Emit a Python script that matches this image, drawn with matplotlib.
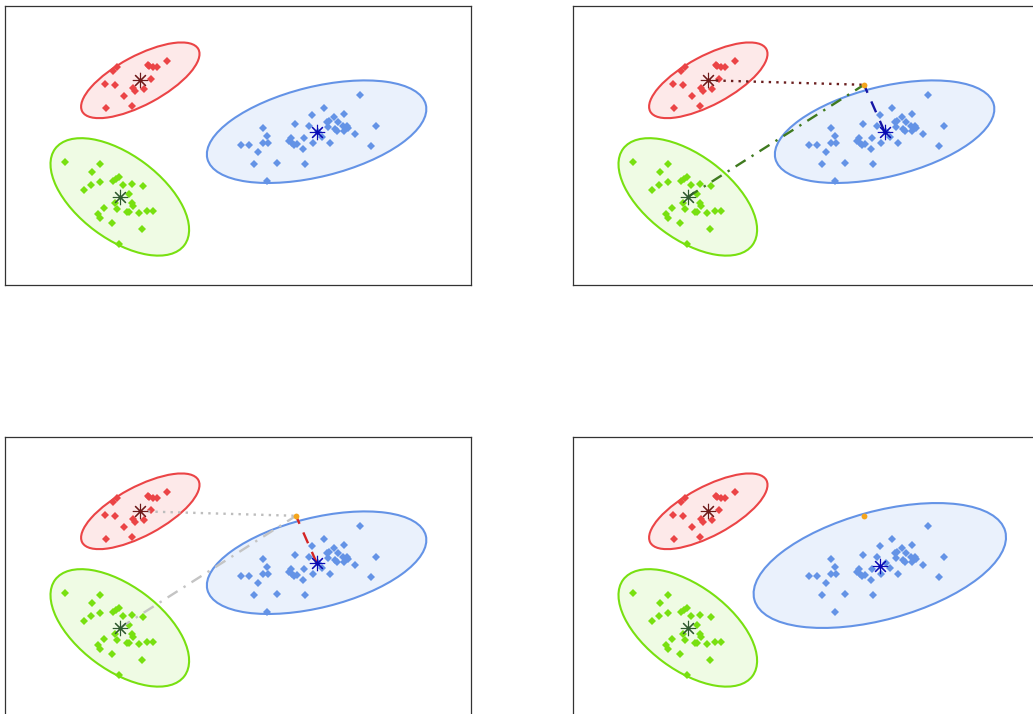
import matplotlib
matplotlib.use("Agg")
import matplotlib.pyplot as plt
from matplotlib.patches import Ellipse

# ---- cluster samples ----
red_x = [107.7, 112.3, 100.0, 110.0, 101.0, 126.7, 119.3, 128.3, 130.0, 139.0,
         145.7, 142.7, 147.7, 151.7, 162.3, 144.0]
red_y = [213.3, 217.3, 200.7, 199.7, 176.3, 179.0, 189.0, 196.7, 193.3, 195.7,
         205.7, 219.7, 217.3, 218.0, 223.3, 219.0]

blue_x = [355.0, 319.0, 306.7, 339.3, 290.0, 304.0, 321.7, 324.0, 329.0, 333.3,
          338.0, 341.7, 343.3, 349.7, 339.0, 330.0, 331.7, 323.3, 371.0, 365.7,
          258.0, 262.3, 257.7, 263.3, 236.3, 243.7, 252.7, 249.3, 271.7, 300.3,
          262.0, 285.7, 287.0, 289.0, 291.7, 297.7, 307.7, 316.7, 325.3, 313.3,
          299.0, 283.5]
blue_y = [189.5, 177.0, 169.7, 170.7, 160.7, 158.7, 162.3, 163.3, 168.0, 162.3,
          159.0, 159.0, 156.5, 150.7, 154.0, 155.7, 153.3, 157.3, 158.3, 138.7,
          156.3, 148.3, 142.0, 141.7, 140.0, 140.0, 132.7, 120.3, 121.3, 120.3,
          104.0, 146.7, 142.0, 140.0, 140.7, 135.7, 142.0, 147.3, 142.0, 152.3,
          146.3, 144.0]

green_x = [60.0, 95.0, 87.3, 95.0, 85.7, 79.3, 107.7, 111.0, 114.0, 117.7,
           126.7, 137.7, 124.3, 110.0, 126.7, 99.3, 112.3, 121.7, 124.3, 133.7,
           141.7, 147.7, 92.7, 95.0, 107.0, 136.7, 114.3, 127.7]
green_y = [122.3, 120.7, 112.3, 102.3, 100.0, 94.7, 104.0, 105.7, 107.3, 100.0,
           100.7, 98.3, 90.7, 81.3, 81.3, 76.7, 75.7, 72.3, 73.0, 72.0,
           73.3, 74.0, 70.7, 66.7, 61.3, 55.3, 40.7, 79.0]

# ---- component means and covariance ellipses (semi-axes, angle in degrees) ----
red_mean = (135.3, 204.2)
red_axes = (65.9, 24.4)
red_angle = 28.2

green_mean = (114.8, 87.6)
green_axes = (80.6, 41.9)
green_angle = -36.7

blue_mean = (311.6, 152.8)
blue_axes = (112.5, 44.9)
blue_angle = 13.9

# blue component after absorbing the new sample
blue_mean_new = (306.8, 150.0)
blue_axes_new = (130.0, 54.1)
blue_angle_new = 15.3

# new sample
new_x, new_y = 291.0, 199.7

RED, RED_FILL, RED_STAR = "#eb4446", "#fde9e9", "#6e1a1a"
BLUE, BLUE_FILL, BLUE_STAR = "#6493e6", "#eaf1fc", "#0a0ab4"
GREEN, GREEN_FILL, GREEN_STAR = "#78e010", "#effbe4", "#2f5a2f"
ORANGE = "#f4a51c"

W, H = 1033, 714
fig = plt.figure(figsize=(W / 100, H / 100), dpi=100)


def make_axes(left_px, top_px):
    ax = fig.add_axes([left_px / W, 1 - (top_px + 279) / H, 466 / W, 279 / H])
    ax.set_xlim(0, 466)
    ax.set_ylim(0, 279)
    ax.set_xticks([])
    ax.set_yticks([])
    for s in ax.spines.values():
        s.set_color("#333333")
        s.set_linewidth(0.9)
    return ax


def component(ax, mean, axes, angle, edge, fill):
    ax.add_patch(Ellipse(mean, 2 * axes[0], 2 * axes[1], angle=angle,
                         facecolor=fill, edgecolor=edge, lw=1.5, zorder=1))


def base(ax, blue_params):
    component(ax, red_mean, red_axes, red_angle, RED, RED_FILL)
    component(ax, green_mean, green_axes, green_angle, GREEN, GREEN_FILL)
    bm, ba, bang = blue_params
    component(ax, bm, ba, bang, BLUE, BLUE_FILL)
    pt = dict(marker="D", ls="none", ms=4.0, mew=0, zorder=3)
    ax.plot(red_x, red_y, color=RED, **pt)
    ax.plot(blue_x, blue_y, color=BLUE, **pt)
    ax.plot(green_x, green_y, color=GREEN, **pt)
    star = dict(marker=(8, 2, 0), ms=11, mew=0.8, zorder=5)
    ax.plot(*red_mean, color=RED_STAR, **star)
    ax.plot(*green_mean, color=GREEN_STAR, **star)
    ax.plot(*bm, color=BLUE_STAR, **star)


def link(ax, mean, color, ls):
    ax.plot([mean[0], new_x], [mean[1], new_y], color=color, ls=ls, lw=1.7, zorder=4)


def new_point(ax):
    ax.plot(new_x, new_y, "o", color=ORANGE, ms=4.2, mew=0, zorder=6)


# initial mixture
ax1 = make_axes(5, 5.5)
base(ax1, (blue_mean, blue_axes, blue_angle))

# distances from the new sample to every component
ax2 = make_axes(573, 5.5)
base(ax2, (blue_mean, blue_axes, blue_angle))
link(ax2, red_mean, "#6b1f1f", (0, (1, 2.2)))
link(ax2, green_mean, "#3f7a1f", (0, (5, 3, 1, 3)))
link(ax2, blue_mean, "#1515a5", (0, (5, 4)))
new_point(ax2)

# nearest component highlighted
ax3 = make_axes(5, 436.5)
base(ax3, (blue_mean, blue_axes, blue_angle))
link(ax3, red_mean, "#bdbdbd", (0, (1, 2.2)))
link(ax3, green_mean, "#c4c4c4", (0, (5, 3, 1, 3)))
link(ax3, blue_mean, "#d42424", (0, (5, 4)))
new_point(ax3)

# updated mixture
ax4 = make_axes(573, 436.5)
base(ax4, (blue_mean_new, blue_axes_new, blue_angle_new))
new_point(ax4)

fig.savefig("out.png", dpi=100)
